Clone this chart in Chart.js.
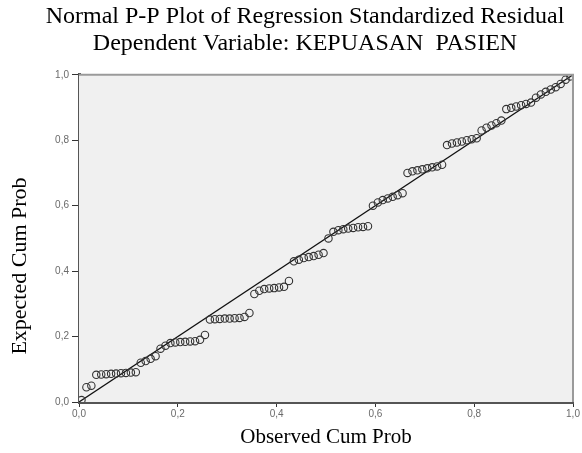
<!DOCTYPE html>
<html>
<head>
<meta charset="utf-8">
<script src="https://cdn.jsdelivr.net/npm/chart.js"></script>
<style>
  body { margin: 0; background: #fff; }
  #wrap { position: relative; width: 582px; height: 453px; }
</style>
</head>
<body>
<div id="wrap"><canvas id="pp"></canvas></div>
<script>
// ─────────────────────────────────────────────
// DATA
// ─────────────────────────────────────────────
const observed = [
  0.005, 0.015, 0.025, 0.035, 0.045, 0.055, 0.065, 0.075, 0.085, 0.095,
  0.105, 0.115, 0.125, 0.135, 0.145, 0.155, 0.165, 0.175, 0.185, 0.195,
  0.205, 0.215, 0.225, 0.235, 0.245, 0.255, 0.265, 0.275, 0.285, 0.295,
  0.305, 0.315, 0.325, 0.335, 0.345, 0.355, 0.365, 0.375, 0.385, 0.395,
  0.405, 0.415, 0.425, 0.435, 0.445, 0.455, 0.465, 0.475, 0.485, 0.495,
  0.505, 0.515, 0.525, 0.535, 0.545, 0.555, 0.565, 0.575, 0.585, 0.595,
  0.605, 0.615, 0.625, 0.635, 0.645, 0.655, 0.665, 0.675, 0.685, 0.695,
  0.705, 0.715, 0.725, 0.735, 0.745, 0.755, 0.765, 0.775, 0.785, 0.795,
  0.805, 0.815, 0.825, 0.835, 0.845, 0.855, 0.865, 0.875, 0.885, 0.895,
  0.905, 0.915, 0.925, 0.935, 0.945, 0.955, 0.965, 0.975, 0.985, 0.995
];

const expected = [
  0.006, 0.045, 0.050, 0.083, 0.084, 0.085, 0.086, 0.087, 0.088, 0.089,
  0.090, 0.091, 0.120, 0.125, 0.132, 0.140, 0.163, 0.172, 0.180, 0.182,
  0.183, 0.184, 0.185, 0.186, 0.190, 0.205, 0.252, 0.253, 0.254, 0.255,
  0.255, 0.256, 0.257, 0.260, 0.272, 0.330, 0.340, 0.345, 0.347, 0.348,
  0.350, 0.352, 0.370, 0.430, 0.435, 0.440, 0.443, 0.446, 0.450, 0.455,
  0.500, 0.520, 0.525, 0.528, 0.530, 0.532, 0.534, 0.535, 0.537, 0.600,
  0.610, 0.617, 0.622, 0.627, 0.632, 0.638, 0.700, 0.705, 0.708, 0.711,
  0.714, 0.717, 0.720, 0.725, 0.785, 0.790, 0.793, 0.796, 0.800, 0.803,
  0.806, 0.830, 0.838, 0.845, 0.852, 0.860, 0.895, 0.899, 0.903, 0.907,
  0.911, 0.915, 0.930, 0.940, 0.948, 0.955, 0.962, 0.972, 0.985, 0.995
];

const refLine = [0, 1];
const tickValues = [0, 0.2, 0.4, 0.6, 0.8, 1.0];

const titleLines = [
  'Normal P-P Plot of Regression Standardized Residual',
  'Dependent Variable: KEPUASAN  PASIEN'
];
const xTitle = 'Observed Cum Prob';
const yTitle = 'Expected Cum Prob';

// ─────────────────────────────────────────────
// PLOT FRAME / BACKGROUND + Y TITLE
// ─────────────────────────────────────────────
const framePlugin = {
  id: 'frame',
  beforeDatasetsDraw(chart) {
    const { ctx, chartArea: a } = chart;
    ctx.save();
    ctx.fillStyle = '#f0f0f0';
    ctx.fillRect(a.left, a.top, a.right - a.left, a.bottom - a.top);
    ctx.restore();
  },
  afterDraw(chart) {
    const { ctx, chartArea: a } = chart;
    ctx.save();
    ctx.strokeStyle = '#9a9a9a';
    ctx.lineWidth = 2;
    ctx.beginPath();
    ctx.moveTo(a.left, a.top);
    ctx.lineTo(a.right, a.top);
    ctx.lineTo(a.right, a.bottom);
    ctx.stroke();

    // y axis title sits a bit below the middle of the axis in the original
    ctx.translate(20, 266);
    ctx.rotate(-Math.PI / 2);
    ctx.fillStyle = '#000';
    ctx.font = '22px "Liberation Serif"';
    ctx.textAlign = 'center';
    ctx.textBaseline = 'middle';
    ctx.fillText(yTitle, 0, 0);
    ctx.restore();
  }
};

const fmt = v => Number(v).toFixed(1).replace('.', ',');

const tickFont = { family: '"Liberation Sans", Arial, sans-serif', size: 10 };
const serif = '"Liberation Serif", "Times New Roman", serif';

new Chart(document.getElementById('pp'), {
  type: 'scatter',
  data: {
    datasets: [
      {
        type: 'line',
        data: refLine.map(v => ({ x: v, y: v })),
        borderColor: '#111',
        borderWidth: 1.3,
        pointRadius: 0,
        fill: false,
        order: 2
      },
      {
        data: observed.map((x, i) => ({ x: x, y: expected[i] })),
        pointStyle: 'circle',
        pointRadius: 3.7,
        pointBorderWidth: 1.1,
        pointBorderColor: '#333',
        pointBackgroundColor: 'rgba(0,0,0,0)',
        order: 1
      }
    ]
  },
  options: {
    responsive: true,
    maintainAspectRatio: false,
    animation: false,
    layout: { padding: { left: 37, right: 9, top: 0, bottom: 0 } },
    plugins: {
      legend: { display: false },
      tooltip: { enabled: false },
      title: {
        display: true,
        text: titleLines,
        color: '#000',
        font: { family: serif, size: 24, weight: 'normal', lineHeight: 1.12 },
        padding: { top: 3, bottom: 18 }
      }
    },
    scales: {
      x: {
        type: 'linear',
        min: 0,
        max: 1,
        afterBuildTicks: s => { s.ticks = tickValues.map(v => ({ value: v })); },
        afterFit: s => { s.height = 51; },
        ticks: { callback: fmt, color: '#6a6a6a', font: tickFont, padding: 1, maxRotation: 0 },
        grid: { drawOnChartArea: false, drawTicks: true, tickLength: 5, color: '#333', tickWidth: 1 },
        border: { display: true, color: '#555', width: 3 },
        title: {
          display: true,
          text: xTitle,
          color: '#000',
          font: { family: serif, size: 21, lineHeight: 1.2 },
          padding: { top: 0, bottom: 3 }
        }
      },
      y: {
        type: 'linear',
        min: 0,
        max: 1,
        afterBuildTicks: s => { s.ticks = tickValues.map(v => ({ value: v })); },
        afterFit: s => { s.width = 42; },
        ticks: { callback: fmt, color: '#6a6a6a', font: tickFont, padding: 3 },
        grid: { drawOnChartArea: false, drawTicks: true, tickLength: 7, color: '#333', tickWidth: 1 },
        border: { display: true, color: '#555', width: 3 },
        title: { display: false }
      }
    }
  },
  plugins: [framePlugin]
});
</script>
</body>
</html>
